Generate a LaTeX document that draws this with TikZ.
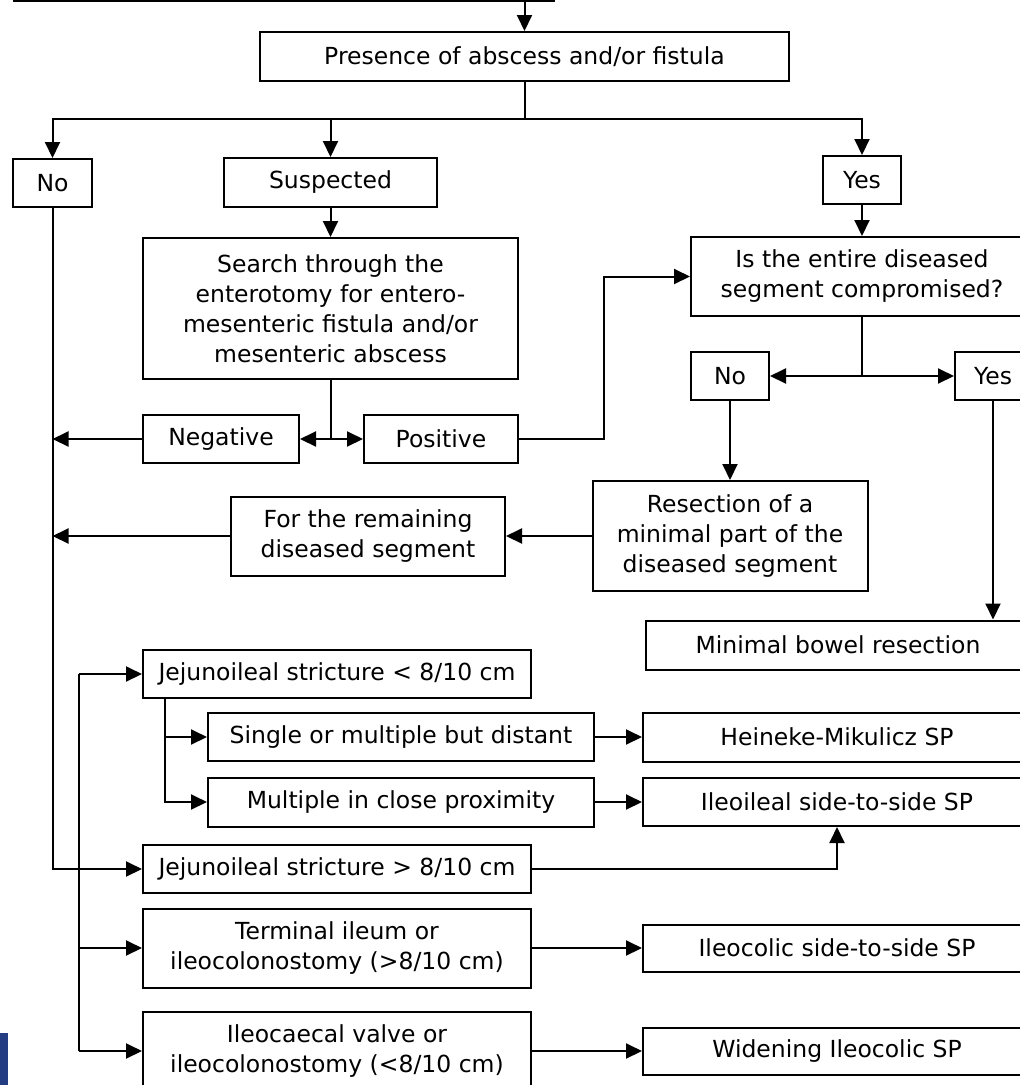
\documentclass[tikz,border=0pt]{standalone}
\usepackage{fontspec}
\setmainfont{DejaVu Sans}
\usetikzlibrary{arrows.meta}
\definecolor{slideblue}{RGB}{35,60,130}

\tikzset{
  box/.style={draw, line width=2pt, minimum height=48pt, inner sep=0pt, align=center, font=\fontsize{23.5}{30}\selectfont},
  arr/.style={line width=2pt, -{Triangle[length=16pt,width=15pt]}},
  con/.style={line width=2pt}
}

\begin{document}
\begin{tikzpicture}[x=1pt,y=-1pt]
  \clip (0,0) rectangle (1020,1085);
  \fill[white] (0,0) rectangle (1020,1085);
  \fill[slideblue] (0,1033) rectangle (8,1085);
  \draw[con] (13,1) -- (555,1);
  \coordinate (top) at (524.5,0);

  \node[box, minimum width=529pt, minimum height=49pt] (presence) at (524.5,56.5) {Presence of abscess and/or fistula};
  \node[box, minimum width=79pt] (no1) at (52.5,183) {No};
  \node[box, minimum width=213pt, minimum height=49pt] (suspected) at (330.5,182.5) {Suspected};
  \node[box, minimum width=78pt] (yes1) at (862,180) {Yes};
  \node[box, minimum width=375pt, minimum height=141pt] (search) at (330.5,308.5) {Search through the\\enterotomy for entero-\\mesenteric fistula and/or\\mesenteric abscess};
  \node[box, minimum width=156pt] (negative) at (221,439) {Negative};
  \node[box, minimum width=154pt] (positive) at (441,439) {Positive};
  \node[box, minimum width=342pt, minimum height=79pt] (entire) at (862,276.5) {Is the entire diseased\\segment compromised?};
  \node[box, minimum width=78pt] (no2) at (730,376) {No};
  \node[box, minimum width=76pt] (yes2) at (993,376) {Yes};
  \node[box, minimum width=275pt, minimum height=110pt] (resect) at (730,536) {Resection of a\\minimal part of the\\diseased segment};
  \node[box, minimum width=274pt, minimum height=79pt] (remain) at (368,536) {For the remaining\\diseased segment};
  \node[box, minimum width=384pt, minimum height=49pt] (minimal) at (838,645) {Minimal bowel resection};

  \node[box, minimum width=388pt] (jshort) at (337,674) {Jejunoileal stricture < 8/10 cm};
  \node[box, minimum width=386pt] (single) at (401,737) {Single or multiple but distant};
  \node[box, minimum width=386pt, minimum height=49pt] (multi) at (401,802) {Multiple in close proximity};
  \node[box, minimum width=388pt] (jlong) at (337,869) {Jejunoileal stricture > 8/10 cm};
  \node[box, minimum width=388pt, minimum height=79pt] (terminal) at (337,948) {Terminal ileum or\\ileocolonostomy (>8/10 cm)};
  \node[box, minimum width=388pt, minimum height=79pt] (caecal) at (337,1051) {Ileocaecal valve or\\ileocolonostomy (<8/10 cm)};
  \node[box, minimum width=388pt, minimum height=49pt] (heineke) at (837,737) {Heineke-Mikulicz SP};
  \node[box, minimum width=388pt] (ileoileal) at (837,802) {Ileoileal side-to-side SP};
  \node[box, minimum width=388pt, minimum height=47pt] (ileocolic) at (837,948) {Ileocolic side-to-side SP};
  \node[box, minimum width=388pt, minimum height=47pt] (widening) at (837,1051) {Widening Ileocolic SP};

  \draw[arr] (top) -- (presence);
  \coordinate (fork) at (524.5,119);
  \draw[con] (presence) -- (fork);
  \draw[arr] (fork) -| (no1);
  \draw[arr] (fork) -| (yes1);
  \draw[arr] (suspected |- fork) -- (suspected);
  \draw[arr] (suspected) -- (search);
  \coordinate (sfork) at (search.south |- negative);
  \draw[con] (search) -- (sfork);
  \draw[arr] (sfork) -- (negative);
  \draw[arr] (sfork) -- (positive);
  \draw[arr] (negative) -- (no1 |- negative);
  \coordinate (pbend) at (604,439);
  \draw[arr] (positive) -- (pbend) |- (entire);
  \draw[arr] (yes1) -- (entire);
  \coordinate (efork) at (entire.south |- no2);
  \draw[con] (entire) -- (efork);
  \draw[arr] (efork) -- (no2);
  \draw[arr] (efork) -- (yes2);
  \draw[arr] (no2) -- (resect);
  \draw[arr] (resect) -- (remain);
  \draw[arr] (remain) -- (no1 |- remain);
  \draw[arr] (yes2) -- (yes2 |- minimal.north);
  \draw[arr] (no1) |- (jlong);

  \coordinate (ltop) at (79,674);
  \coordinate (lbot) at (79,1051);
  \draw[con] (ltop) -- (lbot);
  \draw[arr] (ltop) -- (jshort);
  \draw[arr] (ltop |- terminal) -- (terminal);
  \draw[arr] (lbot) -- (caecal);
  \coordinate (jb) at ([xshift=23pt]jshort.south west);
  \draw[arr] (jb) |- (multi);
  \draw[arr] (jb |- single) -- (single);
  \draw[arr] (single) -- (heineke);
  \draw[arr] (multi) -- (ileoileal);
  \draw[arr] (jlong) -| (ileoileal);
  \draw[arr] (terminal) -- (ileocolic);
  \draw[arr] (caecal) -- (widening);
\end{tikzpicture}
\end{document}
